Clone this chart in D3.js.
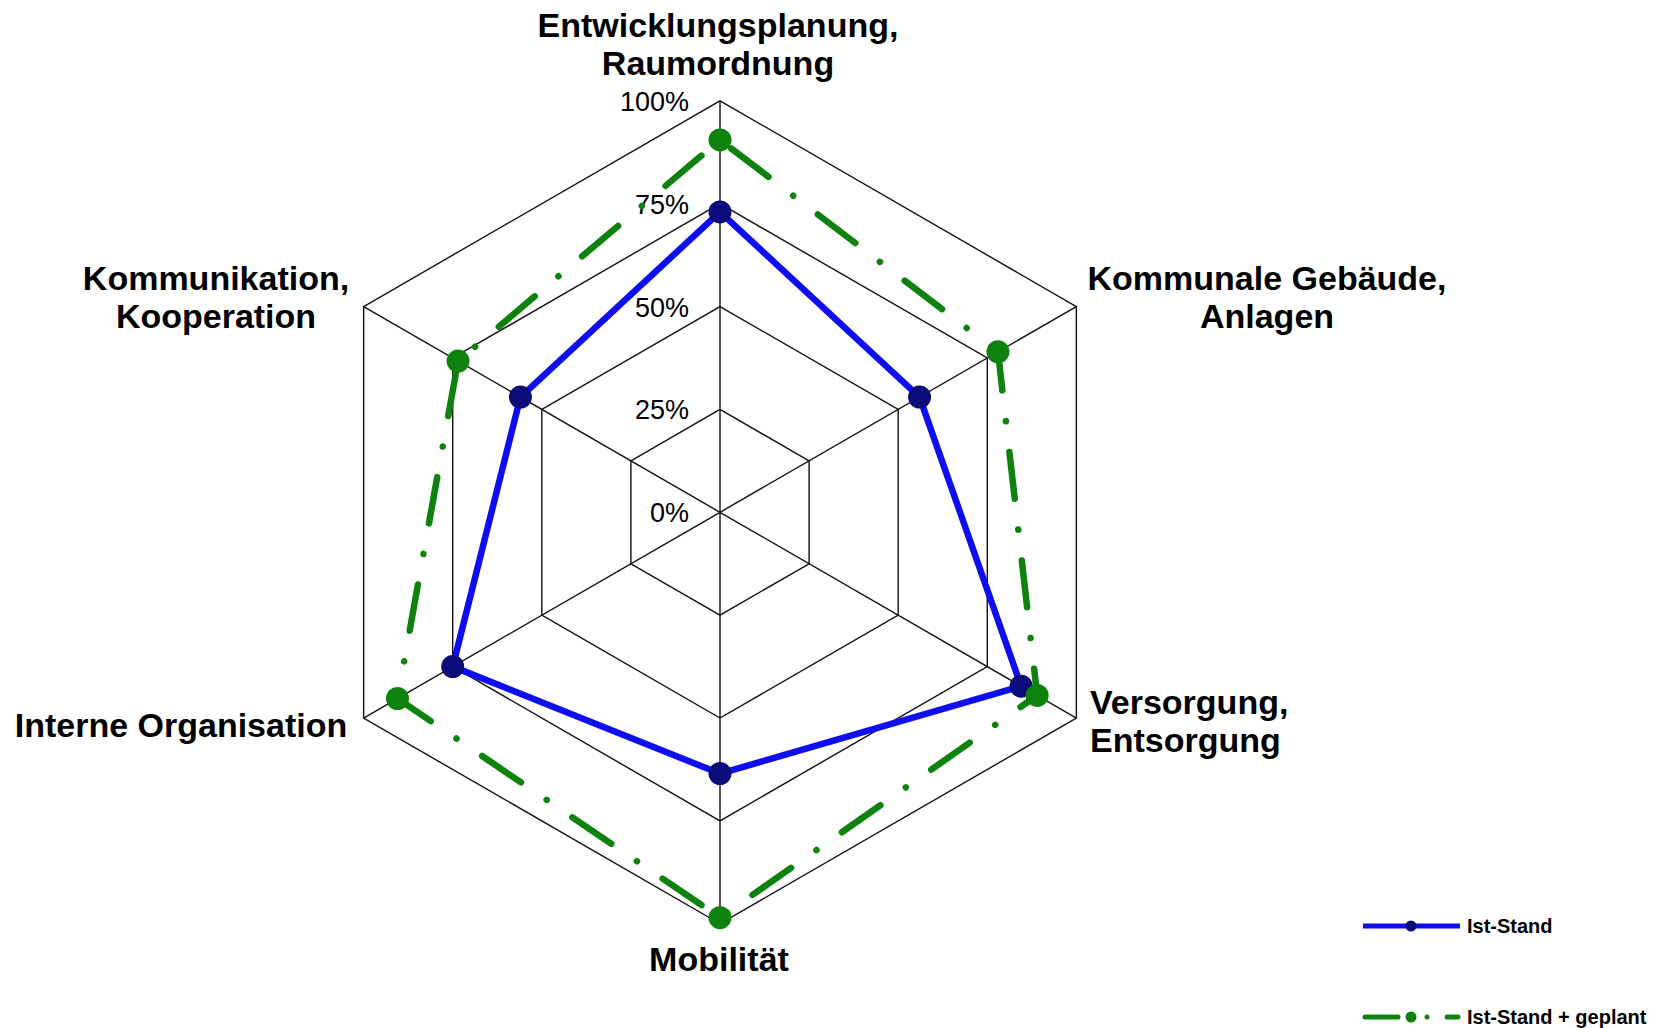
<!DOCTYPE html>
<html>
<head>
<meta charset="utf-8">
<script src="https://cdn.jsdelivr.net/npm/d3@7/dist/d3.min.js"></script>
<style>
  html, body { margin: 0; padding: 0; background: #ffffff; }
  svg { display: block; }
  text { font-family: "Liberation Sans", Arial, sans-serif; fill: #000; }
</style>
</head>
<body>
<svg id="chart" width="1660" height="1028"></svg>
<script>
// ---- data ----
const categories = [
  "Entwicklungsplanung,|Raumordnung",
  "Kommunale Gebäude,|Anlagen",
  "Versorgung,|Entsorgung",
  "Mobilität",
  "Interne Organisation",
  "Kommunikation,|Kooperation"
];
const istStand = [73, 56, 84.5, 63.5, 75, 56];
const istStandGeplant = [90.5, 78, 89, 98.5, 90.5, 73.5];
const tickValues = [0, 25, 50, 75, 100];
const tickLabels = ["0%", "25%", "50%", "75%", "100%"];
const seriesNames = ["Ist-Stand", "Ist-Stand + geplant"];

// ---- layout ----
const cx = 720, cy = 512.3, R = 411.5;
const svg = d3.select("#chart");
const g = svg.append("g").attr("transform", `translate(${cx},${cy})`);

const r = d3.scaleLinear().domain([0, 100]).range([0, R]);
const angle = d3.scaleLinear().domain([0, categories.length]).range([0, 2 * Math.PI]);
const px = (i, v) => r(v) * Math.sin(angle(i));
const py = (i, v) => -r(v) * Math.cos(angle(i));

const radial = d3.lineRadial()
  .angle((d, i) => angle(i))
  .radius(d => r(d))
  .curve(d3.curveLinearClosed);

// grid hexagons
g.selectAll("path.grid")
  .data(tickValues)
  .join("path")
  .attr("class", "grid")
  .attr("d", t => radial(categories.map(() => t)))
  .attr("fill", "none")
  .attr("stroke", "#111")
  .attr("stroke-width", 1.4);

// spokes
g.selectAll("line.spoke")
  .data(categories)
  .join("line")
  .attr("class", "spoke")
  .attr("x1", 0).attr("y1", 0)
  .attr("x2", (d, i) => px(i, 100))
  .attr("y2", (d, i) => py(i, 100))
  .attr("stroke", "#111")
  .attr("stroke-width", 1.4);

// tick labels
g.selectAll("text.tick")
  .data(tickValues)
  .join("text")
  .attr("class", "tick")
  .attr("x", -31)
  .attr("y", t => -r(t) + 10)
  .attr("text-anchor", "end")
  .attr("font-size", 27)
  .text((t, i) => tickLabels[i]);

// category labels (positions are layout)
const labelLayout = [
  { x: 718, y: 37, anchor: "middle" },
  { x: 1267, y: 290, anchor: "middle" },
  { x: 1090, y: 714, anchor: "start" },
  { x: 719, y: 971, anchor: "middle" },
  { x: 181, y: 737, anchor: "middle" },
  { x: 216, y: 290, anchor: "middle" }
];
const lab = svg.selectAll("text.cat")
  .data(categories)
  .join("text")
  .attr("class", "cat")
  .attr("font-size", 34)
  .attr("font-weight", "bold")
  .attr("text-anchor", (d, i) => labelLayout[i].anchor)
  .attr("x", (d, i) => labelLayout[i].x)
  .attr("y", (d, i) => labelLayout[i].y);
lab.each(function(d, i) {
  const lines = d.split("|");
  d3.select(this).selectAll("tspan")
    .data(lines)
    .join("tspan")
    .attr("x", labelLayout[i].x)
    .attr("dy", (l, j) => j === 0 ? 0 : 37.5)
    .text(l => l);
});

// series
const blue = "#0e0ef0", navy = "#0b0b7a", green = "#0d820d";

g.append("path")
  .attr("d", radial(istStand))
  .attr("fill", "none")
  .attr("stroke", blue)
  .attr("stroke-width", 6.5)
  .attr("stroke-linejoin", "round");

g.selectAll("circle.ist")
  .data(istStand)
  .join("circle")
  .attr("class", "ist")
  .attr("cx", (v, i) => px(i, v))
  .attr("cy", (v, i) => py(i, v))
  .attr("r", 11.5)
  .attr("fill", navy);

g.append("path")
  .attr("d", radial(istStandGeplant))
  .attr("fill", "none")
  .attr("stroke", green)
  .attr("stroke-width", 6.5)
  .attr("stroke-linecap", "round")
  .attr("stroke-dasharray", "47 31 0.1 31")
  .attr("stroke-dashoffset", -14);

g.selectAll("circle.plan")
  .data(istStandGeplant)
  .join("circle")
  .attr("class", "plan")
  .attr("cx", (v, i) => px(i, v))
  .attr("cy", (v, i) => py(i, v))
  .attr("r", 11.5)
  .attr("fill", green);

// legend
const lg = svg.append("g");
lg.append("line").attr("x1", 1363).attr("x2", 1460).attr("y1", 926).attr("y2", 926)
  .attr("stroke", blue).attr("stroke-width", 5);
lg.append("circle").attr("cx", 1411).attr("cy", 926).attr("r", 5.5).attr("fill", navy);
lg.append("text").attr("x", 1467).attr("y", 933).attr("font-size", 20).attr("font-weight", "bold")
  .text(seriesNames[0]);
lg.append("line").attr("x1", 1365).attr("x2", 1398).attr("y1", 1017).attr("y2", 1017)
  .attr("stroke", green).attr("stroke-width", 5).attr("stroke-linecap", "round");
lg.append("circle").attr("cx", 1411).attr("cy", 1017).attr("r", 5.5).attr("fill", green);
lg.append("circle").attr("cx", 1427).attr("cy", 1017).attr("r", 2.5).attr("fill", green);
lg.append("line").attr("x1", 1447).attr("x2", 1458).attr("y1", 1017).attr("y2", 1017)
  .attr("stroke", green).attr("stroke-width", 5).attr("stroke-linecap", "round");
lg.append("text").attr("x", 1467).attr("y", 1024).attr("font-size", 20).attr("font-weight", "bold")
  .text(seriesNames[1]);
</script>
</body>
</html>
